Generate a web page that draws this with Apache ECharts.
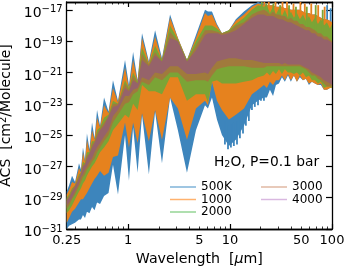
<!DOCTYPE html>
<html><head><meta charset="utf-8">
<style>html,body{margin:0;padding:0;background:#fff}#c{width:344px;height:268px}</style>
<script src="https://cdn.jsdelivr.net/npm/echarts@6/dist/echarts.min.js"></script></head>
<body><div id="c"></div>
<script>
const wavelength=[.25,.264,.282,.302,.33,.345,.361,.378,.395,.418,.443,.469,.496,.531,.581,.643,.711,.796,.933,1.02,1.12,1.24,1.37,1.60,1.84,2.15,2.58,3.08,3.78,4.63,5.68,6.07,6.65,7.44,8.33,9.75,11.4,13.7,16.4,18.8,21.5,23,24.6,26.4,28.2,30.2,32.3,34.5,37,39.5,42.3,45.3,48.4,51.9,55.5,59.4,63.5,68,72.8,77.8,83.4,89.2,95.4,100];
const hi500=[-28.6,-28.2,-27.6,-28,-26.8,-27.2,-25.8,-26.6,-24.9,-25.9,-24.2,-25.2,-23.4,-24.4,-22.6,-23.5,-21.5,-22.8,-20.2,-21.8,-19.7,-21.5,-18.5,-20.3,-18.3,-20.1,-17.3,-18.8,-20.2,-18.6,-17,-17.1,-17.1,-17.9,-18.5,-18.3,-17.6,-17.1,-16.7,-16.5,-16.6,-16.7,-16.7,-16.7,-16.8,-16.8,-16.8,-16.9,-16.9,-17,-17,-17,-17,-17.1,-17.2,-17.2,-17.3,-17.3,-17.4,-17.5,-17.6,-17.6,-17.7,-17.8];
const lo500=[-31,-30.8,-30.7,-30.6,-30.4,-30.4,-30.1,-30.3,-29.9,-30,-29.6,-29.8,-29.3,-29.4,-28.9,-28.7,-26.9,-28.8,-25,-27.9,-24.5,-27.4,-23.7,-27.5,-23.5,-26.8,-22.6,-24.7,-27.4,-24.7,-23.1,-23.3,-22.6,-24,-25,-25.7,-25.3,-24.4,-23.1,-22.8,-22.6,-22.6,-22.1,-22.5,-21.8,-21.7,-21.3,-21.6,-21.2,-21.6,-21.2,-21.6,-21.3,-21.5,-21.4,-21.8,-21.6,-21.7,-21.8,-21.8,-22.1,-22.1,-22,-22];
const hi1000=[-28.8,-28.5,-28,-28.1,-27.1,-27.4,-26.1,-26.7,-25.3,-26.1,-24.7,-25.3,-23.9,-24.5,-23.1,-23.6,-22,-22.9,-20.7,-22,-20.2,-21.6,-18.8,-20.4,-18.7,-20.2,-17.5,-18.8,-20.2,-18.8,-17.2,-17.4,-17.3,-18,-18.5,-18.3,-17.7,-17.3,-16.8,-16.6,-16.7,-16.7,-16.7,-16.7,-16.8,-16.8,-16.8,-16.9,-16.9,-17,-17,-17,-17,-17.1,-17.2,-17.2,-17.3,-17.3,-17.4,-17.5,-17.6,-17.6,-17.7,-17.8];
const lo1000=[-30.6,-30.3,-29.9,-29.7,-29.3,-29.1,-29.1,-28.9,-28.7,-28.4,-28.1,-27.8,-27.6,-27.3,-27.6,-27.4,-26.4,-26.3,-24.2,-25.8,-24.2,-25.5,-23.6,-25.4,-23.4,-25.3,-22.6,-23.3,-25.3,-23.3,-22.8,-23.1,-21.6,-22.8,-23.4,-24,-23.7,-23.3,-22.4,-22.1,-21.8,-22,-21.6,-21.8,-21.5,-21.5,-21.2,-21.5,-21.1,-21.5,-21.2,-21.6,-21.2,-21.5,-21.4,-21.7,-21.6,-21.7,-21.8,-21.7,-22.1,-22.1,-22,-22];
const hi2000=[-29,-28.8,-28.4,-28.2,-27.5,-27.4,-26.7,-26.8,-26.1,-26.1,-25.4,-25.4,-24.7,-24.5,-23.9,-23.7,-22.8,-23,-21.5,-22,-21,-21.6,-19.4,-20.5,-19.3,-20.2,-18,-18.9,-20.2,-19,-18,-18,-18,-18.2,-18.5,-18.3,-17.9,-17.5,-17,-16.7,-16.8,-16.7,-17.2,-16.8,-17.3,-16.9,-17.4,-17,-17.5,-17.1,-17.5,-17.2,-17.6,-17.3,-17.7,-17.4,-17.8,-17.5,-17.9,-17.6,-18,-17.8,-18.2,-17.9];
const lo2000=[-30,-29.8,-29.5,-29.1,-28.6,-28.4,-28.1,-27.9,-27.6,-27.3,-27,-26.8,-26.5,-26.1,-25.8,-25.4,-24.7,-24.3,-23.7,-23.9,-23,-23.4,-21.8,-22.2,-22.2,-22.4,-21.3,-21.3,-22.8,-22.4,-22.4,-22.9,-21.6,-21.5,-21.7,-21.7,-21.7,-21.6,-21.5,-21.3,-21.2,-21,-21.2,-20.9,-21.1,-20.8,-21.1,-20.8,-21,-21,-21.1,-21,-21.2,-21,-21.3,-21.2,-21.5,-21.5,-21.7,-21.6,-22,-21.9,-21.9,-22];
const hi3000=[-29.1,-28.9,-28.5,-28.2,-27.6,-27.4,-26.9,-26.8,-26.3,-26.2,-25.6,-25.4,-24.9,-24.6,-24.2,-23.8,-23,-23,-21.7,-22.1,-21.2,-21.7,-19.8,-20.5,-19.7,-20.3,-18.4,-19,-20.3,-19.3,-18.3,-18.3,-18.3,-18.4,-18.5,-18.4,-18,-17.8,-17.3,-17.1,-17,-17.1,-17.3,-17.1,-17.3,-17.3,-17.4,-17.4,-17.6,-17.5,-17.7,-17.7,-17.9,-17.9,-18.1,-18.1,-18.2,-18.3,-18.5,-18.5,-18.7,-18.7,-18.9,-19];
const lo3000=[-29.7,-29.5,-29.1,-28.8,-28.3,-28,-27.7,-27.5,-27.2,-27,-26.7,-26.5,-26.1,-25.8,-25.4,-25,-24.2,-23.7,-23,-22.9,-22.4,-22.2,-21.6,-21.8,-21.3,-21.5,-21,-21,-21.6,-21.5,-21.5,-21.6,-21.2,-20.8,-20.7,-20.6,-20.6,-20.6,-20.7,-20.7,-20.7,-20.6,-20.6,-20.6,-20.6,-20.6,-20.6,-20.6,-20.6,-20.6,-20.6,-20.6,-20.6,-20.7,-20.8,-21,-21.2,-21.2,-21.4,-21.5,-21.7,-21.9,-21.9,-21.9];
const hi4000=[-29.2,-29,-28.6,-28.3,-27.8,-27.5,-27,-26.9,-26.5,-26.2,-25.8,-25.5,-25.1,-24.7,-24.4,-23.8,-23.2,-23.1,-22,-22.2,-21.5,-21.7,-20.2,-20.6,-19.9,-20.3,-18.8,-19,-20.3,-19.6,-18.6,-18.5,-18.5,-18.5,-18.6,-18.5,-18.3,-17.9,-17.5,-17.3,-17.3,-17.4,-17.4,-17.4,-17.5,-17.6,-17.6,-17.7,-17.8,-17.8,-17.9,-18,-18.1,-18.2,-18.3,-18.3,-18.5,-18.5,-18.7,-18.7,-18.9,-18.9,-19,-19.1];
const lo4000=[-29.5,-29.3,-29,-28.6,-28.1,-27.7,-27.5,-27.2,-27,-26.7,-26.5,-26.1,-25.8,-25.5,-25.1,-24.7,-23.8,-23.4,-22.5,-22.5,-22.1,-22,-21.3,-21.5,-21,-21.1,-20.6,-20.6,-21.1,-21.1,-21,-21.1,-20.7,-20.3,-20.2,-20.1,-20.1,-20.2,-20.2,-20.3,-20.4,-20.4,-20.4,-20.4,-20.4,-20.4,-20.5,-20.4,-20.5,-20.5,-20.5,-20.5,-20.5,-20.6,-20.7,-20.8,-21,-21.1,-21.2,-21.3,-21.5,-21.6,-21.7,-21.8];
// narrow absorption lines rising above the bands: [wavelength, peak exponent]
const peaks500=[[89.6,-16.7],[97,-16.9]];
const peaks1000=[[21.7,-16.5],[24,-16.5],[27.9,-16.5],[32.7,-16.5],[36.2,-16.5],[41.9,-16.6],[49,-16.5],[54.1,-16.6],[62.6,-16.6],[73.2,-16.7],[84.7,-16.8]];
const peaks2000=[[20.5,-16.5],[22.7,-16.6],[26.6,-16.6],[31,-16.7],[37.9,-16.7],[44.3,-16.8],[56.6,-16.8],[69.2,-16.7],[81,-17]];
// narrow gaps falling below the 500K band
const dips500=[[8.91,-25.6],[9.55,-25.9],[10.2,-25.8],[10.9,-25.7],[11.7,-25.6],[12.5,-25.2],[13.4,-24.9],[14.3,-24.4],[15.3,-24.1],[16.4,-23.4],[17.5,-23.2],[18.8,-23.1],[20.1,-22.8],[21.5,-22.8]];
const temperatures=['500K','1000','2000','3000','4000'];
const xLabelTicks=[0.25,1,5,10,50,100];
const xMajorTicks=[1,10,100];
const xMinorTicks=[.3,.4,.5,.6,.7,.8,.9,2,3,4,5,6,7,8,9,20,30,40,50,60,70,80,90];
const yTickExponents=[-31,-29,-27,-25,-23,-21,-19,-17];

const FONT='DejaVu Sans';
const p10=e=>Math.pow(10,e);
const bands=[[hi500,lo500,'#3d85bc','#7fb3d9',peaks500,dips500],[hi1000,lo1000,'#e6821e','#ffb26e',peaks1000,[]],[hi2000,lo2000,'#7ba436','#95d595',peaks2000,[]],[hi3000,lo3000,'#a07a3c','#e0b9a3',[],[]],[hi4000,lo4000,'#96636a','#d9b8e0',[],[]]];
const series=bands.map((b,k)=>({
  type:'custom',name:temperatures[k],clip:true,xAxisIndex:0,yAxisIndex:0,z:2+k,
  data:wavelength.map((w,i)=>[w,p10(b[1][i]),p10(b[0][i])]),
  encode:{x:0,y:[1,2]},silent:true,
  renderItem(params,api){
    if(params.dataIndex!==0)return null;
    const up=wavelength.map((w,i)=>api.coord([w,p10(b[0][i])]));
    const dn=wavelength.map((w,i)=>api.coord([w,p10(b[1][i])])).reverse();
    const children=[{type:'polygon',shape:{points:up.concat(dn)},style:{fill:b[2]}}];
    const stroke=(w,e1,e2)=>{const a=api.coord([w,p10(e1)]),c=api.coord([w,p10(e2)]);
      children.push({type:'line',shape:{x1:a[0],y1:a[1],x2:c[0],y2:c[1]},style:{stroke:b[2],lineWidth:1.8}});};
    b[4].forEach(p=>stroke(p[0],p[1],p[1]-2));
    b[5].forEach(p=>stroke(p[0],p[1],p[1]+1.5));
    return {type:'group',children};
  }
}));
const xBase=(pos,vals,len,extra)=>Object.assign({type:'log',logBase:10,min:.25,max:100,position:pos,gridIndex:0,
  axisLine:{show:true,onZero:false,lineStyle:{color:'#000',width:1.3}},
  axisTick:{show:true,inside:true,length:len,customValues:vals,lineStyle:{color:'#000',width:len>3?1.2:0.8}},
  axisLabel:{show:false},splitLine:{show:false},minorTick:{show:false}},extra||{});
const yBase=(pos,extra)=>Object.assign({type:'log',logBase:10,min:1e-31,max:p10(-16.5),position:pos,gridIndex:0,
  axisLine:{show:true,onZero:false,lineStyle:{color:'#000',width:1.3}},
  axisTick:{show:true,inside:true,length:6,customValues:yTickExponents.map(p10),lineStyle:{color:'#000',width:1.2}},
  axisLabel:{show:false},splitLine:{show:false},minorTick:{show:false}},extra||{});
const option={
  animation:false,backgroundColor:'#fff',textStyle:{fontFamily:FONT},
  grid:{left:66.7,right:12,top:2,bottom:39,containLabel:false,outerBoundsMode:'none'},
  xAxis:[
    xBase('bottom',xMajorTicks,5,{
      name:'Wavelength  [{i|μ}m]',nameLocation:'middle',nameGap:22,
      nameTextStyle:{fontSize:14.2,color:'#000',fontFamily:FONT,rich:{i:{fontSize:14.2,fontStyle:'italic',fontFamily:FONT}}},
      axisLabel:{show:true,customValues:xLabelTicks,color:'#000',fontSize:13,fontFamily:FONT,margin:5,hideOverlap:false,showMinLabel:true,showMaxLabel:true,
        formatter:v=>String(Math.round(v*100)/100)}}),
    xBase('bottom',xMinorTicks,2.5),
    xBase('top',xMajorTicks,5),
    xBase('top',xMinorTicks,2.5)
  ],
  yAxis:[
    yBase('left',{
      name:'ACS  [cm{s|2}/Molecule]',nameLocation:'middle',nameGap:44,
      nameTextStyle:{fontSize:14,color:'#000',fontFamily:FONT,rich:{s:{fontSize:10,verticalAlign:'bottom',padding:[0,0,5,0],fontFamily:FONT}}},
      axisLabel:{show:true,customValues:yTickExponents.map(p10),color:'#000',fontFamily:FONT,fontSize:14,margin:4,hideOverlap:false,padding:[7,0,0,0],
        formatter:v=>'10{s|−'+Math.abs(Math.round(Math.log10(v)))+'}',
        rich:{s:{fontSize:10,padding:[0,0,7,0],fontFamily:FONT}}}}),
    yBase('right')
  ],
  legend:[
    {left:165,top:176,orient:'vertical',itemWidth:26,itemHeight:1.5,itemGap:0.5,icon:'rect',selectedMode:false,
     textStyle:{fontSize:12,color:'#000',fontFamily:FONT},
     data:[0,1,2].map(i=>({name:temperatures[i],itemStyle:{color:bands[i][3]}}))},
    {left:256,top:176,orient:'vertical',itemWidth:26,itemHeight:1.5,itemGap:0.5,icon:'rect',selectedMode:false,
     textStyle:{fontSize:12,color:'#000',fontFamily:FONT},
     data:[3,4].map(i=>({name:temperatures[i],itemStyle:{color:bands[i][3]}}))}
  ],
  graphic:[{type:'text',left:214,top:155,z:50,style:{
    text:'H{s|2}O, P=0.1 bar',fill:'#000',font:'13.8px "DejaVu Sans"',
    rich:{s:{fontSize:9.5,padding:[6,0,0,0],fontFamily:FONT}}}}],
  series
};
const chart=echarts.init(document.getElementById('c'),null,{renderer:'canvas'});
chart.setOption(option);
</script></body></html>
